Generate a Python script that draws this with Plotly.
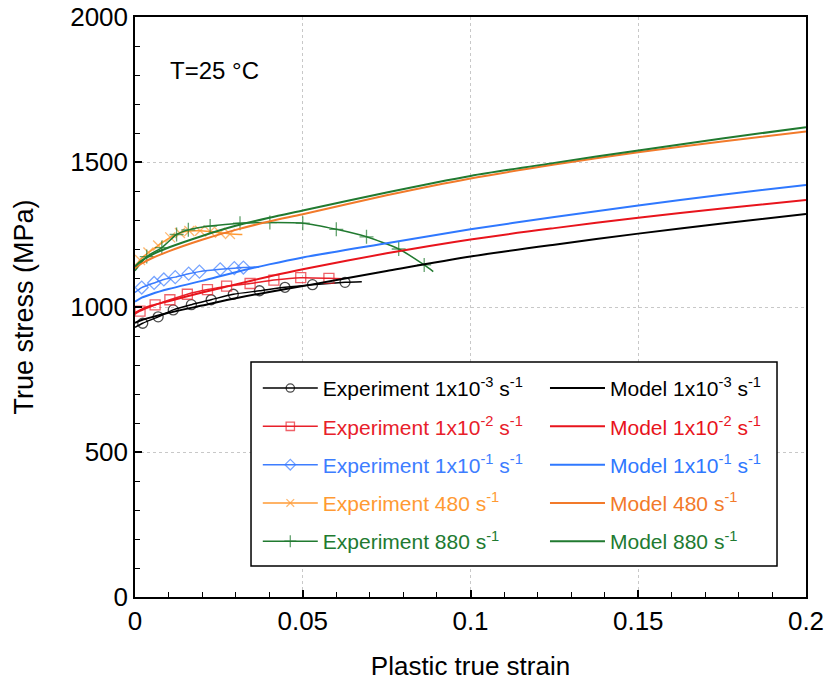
import plotly.graph_objects as go

# ---------------- data ----------------
MODEL_STRAIN = [0, 0.002, 0.005, 0.01, 0.02, 0.03, 0.04, 0.05, 0.075, 0.1, 0.125, 0.15, 0.175, 0.2]
MODEL_1E3 = [945, 955, 965, 980, 1005, 1030, 1052, 1072, 1124, 1174, 1215, 1253, 1288, 1321]
MODEL_1E2 = [980, 992, 1005, 1020, 1050, 1078, 1105, 1130, 1185, 1233, 1272, 1308, 1340, 1369]
MODEL_1E1 = [1018, 1032, 1045, 1062, 1090, 1120, 1147, 1171, 1220, 1268, 1310, 1350, 1387, 1421]
MODEL_480 = [1135, 1150, 1168, 1192, 1232, 1266, 1295, 1320, 1385, 1443, 1491, 1534, 1571, 1605]
MODEL_880 = [1140, 1160, 1180, 1205, 1245, 1280, 1308, 1333, 1395, 1452, 1497, 1540, 1581, 1620]

EXP_1E3_X = [0, 0.0023, 0.0069, 0.0114, 0.0168, 0.0227, 0.0293, 0.0371, 0.0447, 0.0529, 0.0626, 0.0676]
EXP_1E3_Y = [930, 944, 966, 990, 1008, 1025, 1044, 1056, 1068, 1077, 1085, 1087]

EXP_1E2_X = [0, 0.0015, 0.006, 0.0104, 0.0156, 0.0216, 0.0273, 0.0343, 0.0414, 0.0494, 0.0578, 0.0621]
EXP_1E2_Y = [975, 986, 1007, 1025, 1044, 1060, 1072, 1081, 1093, 1101, 1099, 1097]

EXP_1E1_X = [0, 0.002, 0.0057, 0.0086, 0.012, 0.016, 0.0192, 0.0254, 0.0296, 0.0323, 0.037]
EXP_1E1_Y = [1050, 1067, 1083, 1095, 1103, 1115, 1122, 1130, 1134, 1136, 1138]

EXP_480_X = [0, 0.0015, 0.004, 0.0069, 0.0105, 0.0134, 0.0162, 0.0194, 0.0224, 0.0253, 0.0283, 0.0313, 0.032]
EXP_480_Y = [1130, 1162, 1188, 1212, 1240, 1255, 1262, 1263, 1260, 1256, 1252, 1250, 1250]

EXP_880_X = [0, 0.0035, 0.008, 0.0124, 0.0159, 0.0224, 0.0313, 0.0402, 0.05, 0.06, 0.069, 0.0786, 0.0862, 0.0889]
EXP_880_Y = [1125, 1174, 1205, 1250, 1266, 1279, 1289, 1291, 1289, 1268, 1242, 1200, 1145, 1122]

RATE_LABELS = ["1x10<sup>-3</sup> s<sup>-1</sup>", "1x10<sup>-2</sup> s<sup>-1</sup>",
               "1x10<sup>-1</sup> s<sup>-1</sup>", "480 s<sup>-1</sup>", "880 s<sup>-1</sup>"]

X_TICKS = [0, 0.05, 0.1, 0.15, 0.2]
X_TICK_TEXT = ["0", "0.05", "0.1", "0.15", "0.2"]
Y_TICKS = [0, 500, 1000, 1500, 2000]

# ---------------- styles ----------------
EXP_COLORS = ["#000000", "#e8202a", "#3d7dff", "#ff9a33", "#217a30"]
MODEL_COLORS = ["#000000", "#e8141c", "#2f78ff", "#f27a2a", "#217a30"]
SYMBOLS = ["circle-open", "square-open", "diamond-open", "x-thin-open", "cross-thin-open"]

exp_x = [EXP_1E3_X, EXP_1E2_X, EXP_1E1_X, EXP_480_X, EXP_880_X]
exp_y = [EXP_1E3_Y, EXP_1E2_Y, EXP_1E1_Y, EXP_480_Y, EXP_880_Y]
models = [MODEL_1E3, MODEL_1E2, MODEL_1E1, MODEL_480, MODEL_880]

fig = go.Figure()

for i in range(5):
    n = len(exp_x[i])
    sizes = [0] + [10] * (n - 2) + [0]
    if i == 3:
        sizes = [0] + [10] * (n - 3) + [0, 0]
    fig.add_trace(go.Scatter(
        x=exp_x[i], y=exp_y[i], mode="lines+markers",
        name=f"<span style='color:{EXP_COLORS[i]}'>Experiment {RATE_LABELS[i]}</span>",
        line=dict(color=EXP_COLORS[i], width=1.5, shape="spline", smoothing=0.6),
        marker=dict(symbol=SYMBOLS[i], size=sizes, color=EXP_COLORS[i],
                    line=dict(color=EXP_COLORS[i], width=1.3)),
        legend="legend", legendgroup=f"e{i}",
    ))

for i in range(5):
    fig.add_trace(go.Scatter(
        x=MODEL_STRAIN, y=models[i], mode="lines",
        name=f"<span style='color:{MODEL_COLORS[i]}'>Model {RATE_LABELS[i]}</span>",
        line=dict(color=MODEL_COLORS[i], width=2, shape="spline", smoothing=0.8),
        legend="legend2", legendgroup=f"m{i}",
    ))

FONT = "Liberation Sans, Arial, sans-serif"

# legend frame (pixel box converted to paper coords)
fig.add_shape(type="rect", xref="paper", yref="paper",
              x0=0.1729, x1=0.9568, y0=0.0534, y1=0.405,
              line=dict(color="black", width=1.5), fillcolor="white", layer="above")

fig.add_annotation(text="T=25 °C", xref="paper", yref="paper", x=0.049, y=0.9086,
                   xanchor="left", yanchor="middle", showarrow=False,
                   font=dict(family=FONT, size=24, color="black"))

legend_common = dict(bgcolor="rgba(0,0,0,0)", borderwidth=0, font=dict(family=FONT, size=21),
                     xanchor="left", yanchor="top", tracegroupgap=8, itemwidth=55,
                     traceorder="grouped")

fig.update_layout(
    width=829, height=689,
    margin=dict(l=135, r=23, t=17, b=92, autoexpand=False),
    plot_bgcolor="white", paper_bgcolor="white",
    font=dict(family=FONT, color="black"),
    showlegend=True,
    legend=dict(x=0.183, y=0.395, **legend_common),
    legend2=dict(x=0.611, y=0.395, **legend_common),
    xaxis=dict(range=[0, 0.2], tickvals=X_TICKS, ticktext=X_TICK_TEXT, automargin=False,
               ticks="inside", ticklen=7, tickwidth=1.5, tickcolor="black",
               minor=dict(dtick=0.01, ticks="inside", ticklen=5, tickwidth=1.3,
                          tickcolor="black", showgrid=False),
               showline=True, linecolor="black", linewidth=1.5, mirror=True,
               showgrid=True, gridcolor="#c8c8c8", griddash="dot", gridwidth=1,
               zeroline=False, tickfont=dict(size=26),
               title=dict(text="Plastic true strain", font=dict(size=26), standoff=22)),
    yaxis=dict(range=[0, 2000], tickvals=Y_TICKS, automargin=False,
               ticks="inside", ticklen=7, tickwidth=1.5, tickcolor="black",
               minor=dict(dtick=100, ticks="inside", ticklen=5, tickwidth=1.3,
                          tickcolor="black", showgrid=False),
               showline=True, linecolor="black", linewidth=1.5, mirror=True,
               showgrid=True, gridcolor="#c8c8c8", griddash="dot", gridwidth=1,
               zeroline=False, tickfont=dict(size=26),
               title=dict(text="True stress (MPa)", font=dict(size=27), standoff=29)),
)

fig.write_html("out.html")
